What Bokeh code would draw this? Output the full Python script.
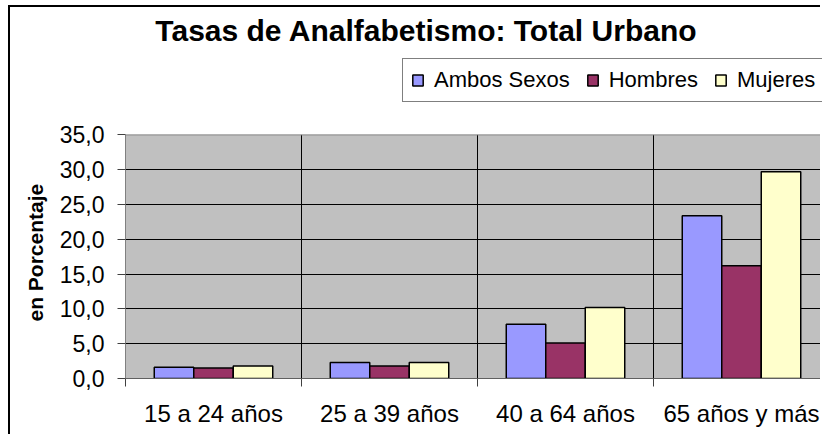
from bokeh.plotting import figure
from bokeh.models import (ColumnDataSource, Range1d, FixedTicker, Legend, LegendItem,
                          BoxAnnotation, Span, Label, Title)
from bokeh.transform import dodge
from bokeh.embed import file_html
from bokeh.resources import INLINE

categories = ["15 a 24 años", "25 a 39 años", "40 a 64 años", "65 años y más"]
series_names = ["Ambos Sexos", "Hombres", "Mujeres"]
ambos = [1.6, 2.3, 7.8, 23.4]
hombres = [1.5, 1.8, 5.1, 16.2]
mujeres = [1.8, 2.3, 10.2, 29.7]
y_ticks = [0, 5, 10, 15, 20, 25, 30, 35]
y_tick_labels = ["0,0", "5,0", "10,0", "15,0", "20,0", "25,0", "30,0", "35,0"]
colors = ["#9999FF", "#993366", "#FFFFCC"]
title_text = "Tasas de Analfabetismo: Total Urbano"
y_title = "en Porcentaje"

centers = [i + 0.5 for i in range(len(categories))]
bounds = [float(i) for i in range(len(categories) + 1)]
src = ColumnDataSource(dict(x=centers, ambos=ambos, hombres=hombres, mujeres=mujeres))
sep = ColumnDataSource(dict(x=bounds[1:-1], y0=[y_ticks[0]] * (len(bounds) - 2),
                            y1=[y_ticks[-1]] * (len(bounds) - 2)))

FONT = "Liberation Sans"
PX_CAT = 176.0          # pixels per category
PX_UNIT = 243.6 / 35    # pixels per percent
W, H = 812, 429
ML, MB = 115, 58
frame_w = W - ML
frame_h = H - MB

p = figure(width=W, height=H, output_backend="svg", toolbar_location=None,
           x_range=Range1d(0, frame_w / PX_CAT), y_range=Range1d(0, frame_h / PX_UNIT),
           min_border_left=ML, min_border_right=0, min_border_top=0, min_border_bottom=MB)
p.styles = {"border-left": "2px solid black", "border-top": "2px solid black",
            "margin-left": "8px", "margin-top": "5px"}

p.background_fill_color = "white"
p.border_fill_color = "white"
p.outline_line_color = None

# plot area (grey) limited to the value axis range
p.add_layout(BoxAnnotation(bottom=y_ticks[0], top=y_ticks[-1], fill_color="#C0C0C0",
                           fill_alpha=1, line_color=None, level="image"))
p.add_layout(Span(location=y_ticks[-1], dimension="width", line_color="#808080", line_width=1))

# category separators
p.segment(x0="x", x1="x", y0="y0", y1="y1", source=sep, line_color="black", line_width=1)

bw = 0.2244
renderers = []
for j, (col, c) in enumerate(zip(["ambos", "hombres", "mujeres"], colors)):
    r = p.vbar(x=dodge("x", (j - 1) * bw, range=p.x_range), top=col, width=bw, bottom=0,
               source=src, fill_color=c, line_color="black", line_width=1.5)
    renderers.append(r)

p.xgrid.visible = False
p.ygrid.ticker = FixedTicker(ticks=y_ticks[1:-1])
p.ygrid.grid_line_color = "black"
p.ygrid.grid_line_width = 1

# x axis
p.xaxis.ticker = FixedTicker(ticks=centers, minor_ticks=bounds[:-1])
p.xaxis.major_label_overrides = {c: lab for c, lab in zip(centers, categories)}
p.xaxis.major_tick_out = 0
p.xaxis.major_tick_in = 0
p.xaxis.minor_tick_out = 8
p.xaxis.minor_tick_in = 0
p.xaxis.minor_tick_line_color = "#404040"
p.xaxis.axis_line_color = "#606060"
p.xaxis.major_label_text_font = FONT
p.xaxis.major_label_text_font_size = "24px"
p.xaxis.major_label_text_color = "black"
p.xaxis.major_label_standoff = 13

# y axis
p.yaxis.bounds = (y_ticks[0], y_ticks[-1])
p.yaxis.ticker = FixedTicker(ticks=y_ticks)
p.yaxis.major_label_overrides = {t: lab for t, lab in zip(y_ticks, y_tick_labels)}
p.yaxis.major_tick_out = 8
p.yaxis.major_tick_in = 0
p.yaxis.minor_tick_out = 0
p.yaxis.minor_tick_in = 0
p.yaxis.major_tick_line_color = "#404040"
p.yaxis.axis_line_color = "#808080"
p.yaxis.major_label_text_font = FONT
p.yaxis.major_label_text_font_size = "23px"
p.yaxis.major_label_text_color = "black"
p.yaxis.major_label_standoff = 13

# value axis title, centred on the plot area (align left = starts at frame bottom)
ytitle = Title(text=y_title, text_font=FONT, text_font_size="21px", text_font_style="bold",
               text_color="black", align="left", offset=57, standoff=20)
p.add_layout(ytitle, "left")

# chart title (inside the frame area above the plot)
p.add_layout(Label(x=(416 - ML) / PX_CAT, y=(frame_h - 22.7) / PX_UNIT, text=title_text,
                   text_font=FONT, text_font_size="30px", text_font_style="bold",
                   text_color="black", text_align="center", text_baseline="alphabetic"))

legend = Legend(items=[LegendItem(label=n, renderers=[r]) for n, r in zip(series_names, renderers)],
                orientation="horizontal", location=(277, 276),
                label_text_font=FONT, label_text_font_size="22px", label_text_color="black",
                glyph_width=13, glyph_height=14, label_standoff=10, spacing=16,
                padding=8, margin=0, border_line_color="black", border_line_width=1,
                background_fill_color="white", background_fill_alpha=1)
p.add_layout(legend, "center")

open("out.html", "w").write(file_html(p, INLINE))
